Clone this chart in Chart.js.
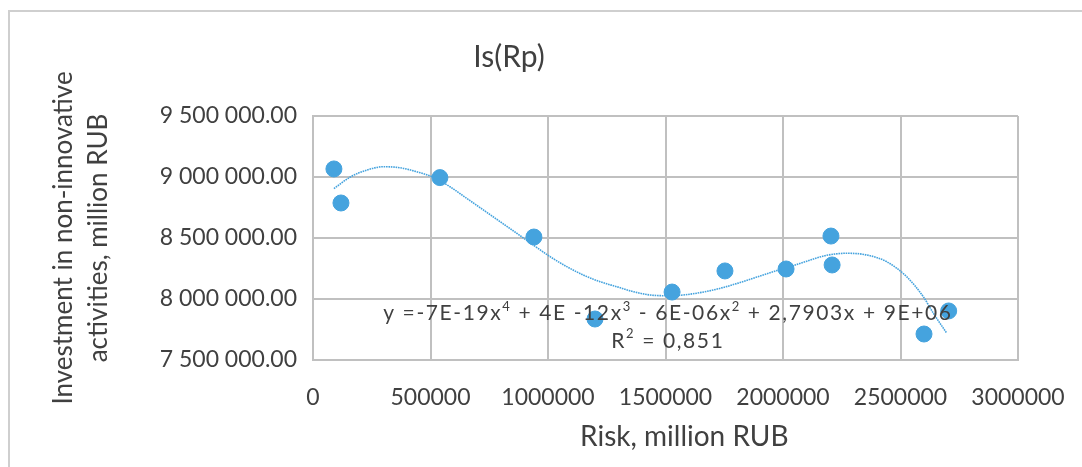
<!DOCTYPE html>
<html>
<head>
<meta charset="utf-8">
<script src="https://cdn.jsdelivr.net/npm/chart.js@4"></script>
<style>
  html, body { margin: 0; padding: 0; background: #fff; }
  #wrap { width: 1082px; height: 467px; position: relative; }
</style>
</head>
<body>
<div id="wrap"><canvas id="chart" width="1082" height="467"></canvas></div>
<script>
// ── Datos ──
const riskX = [89000, 119000, 540000, 940000, 1200000, 1528000, 1753000, 2013000, 2204000, 2209000, 2600000, 2705000];
const investY = [9066000, 8787000, 8995000, 8508000, 7836000, 8057000, 8230000, 8246000, 8516000, 8279000, 7713000, 7902000];

// línea de tendencia (polinómica, grado 4) muestreada del gráfico
const trendX = [89000, 157000, 229000, 299000, 370000, 441000, 512000, 583000, 654000, 725000, 796000, 867000, 937000, 1009000, 1080000, 1150000, 1221000, 1292000, 1363000, 1434000, 1505000, 1576000, 1675000, 1747000, 1817000, 1959000, 2030000, 2101000, 2186000, 2271000, 2356000, 2441000, 2526000, 2597000, 2640000, 2697000];
const trendY = [8905000, 8998000, 9057000, 9084000, 9076000, 9043000, 8998000, 8920000, 8825000, 8730000, 8634000, 8539000, 8443000, 8347000, 8265000, 8197000, 8142000, 8101000, 8060000, 8033000, 8027000, 8033000, 8062000, 8095000, 8135000, 8224000, 8265000, 8310000, 8358000, 8375000, 8361000, 8306000, 8183000, 8019000, 7883000, 7719000];

const xTicks = [0, 500000, 1000000, 1500000, 2000000, 2500000, 3000000];
const yTicks = [7500000, 8000000, 8500000, 9000000, 9500000];

const xTitle = 'Risk, million RUB';
const eqParts = [['y =-7E-19x', 0], ['4', 1], [' + 4E -12x', 0], ['3', 1], [' - 6E-06x', 0], ['2', 1], [' + 2,7903x + 9E+06', 0]];
const r2Text = ['R', '2', ' = 0,851'];

// Estilos
const textColor = '#404040';
const gridColor = '#c0c0c0';
const dotColor = '#45a3de';
const fontFamily = 'Lato, "Open Sans", sans-serif';

const fmtY = v => {
  const s = Math.round(v).toString().replace(/\B(?=(\d{3})+(?!\d))/g, ' ');
  return s + '.00';
};

// marco exterior
const framePlugin = {
  id: 'frame',
  beforeDraw(chart) {
    const { ctx } = chart;
    ctx.save();
    ctx.fillStyle = '#fff';
    ctx.fillRect(0, 0, chart.width, chart.height);
    ctx.strokeStyle = '#cfcfcf';
    ctx.lineWidth = 2;
    ctx.strokeRect(9, 11, chart.width + 20, chart.height + 20);
    ctx.restore();
  },
};

// título eje X (Excel lo desplaza a la derecha) + ecuación de la tendencia
const eqPlugin = {
  id: 'equation',
  afterDatasetsDraw(chart) {
    const { ctx, scales: { x, y } } = chart;
    ctx.save();
    ctx.fillStyle = textColor;
    ctx.textBaseline = 'middle';
    ctx.textAlign = 'center';
    ctx.font = '28px ' + fontFamily;
    ctx.fillText(xTitle, x.getPixelForValue(1580000), 437);

    const cx = x.getPixelForValue(1510000);
    const y1 = y.getPixelForValue(7880000);
    const y2 = y.getPixelForValue(7655000);
    const big = '21px ' + fontFamily;
    const small = '13px ' + fontFamily;
    ctx.textAlign = 'left';
    ctx.letterSpacing = '1.6px';
    let w = 0;
    eqParts.forEach(([t, sup]) => { ctx.font = sup ? small : big; w += ctx.measureText(t).width; });
    let px = cx - w / 2;
    eqParts.forEach(([t, sup]) => {
      ctx.font = sup ? small : big;
      ctx.fillText(t, px, sup ? y1 - 7 : y1);
      px += ctx.measureText(t).width;
    });
    ctx.font = big;
    const a = ctx.measureText(r2Text[0]).width;
    ctx.font = small;
    const b = ctx.measureText(r2Text[1]).width;
    ctx.font = big;
    const c = ctx.measureText(r2Text[2]).width;
    px = cx - (a + b + c) / 2;
    ctx.fillText(r2Text[0], px, y2);
    ctx.font = small;
    ctx.fillText(r2Text[1], px + a, y2 - 7);
    ctx.font = big;
    ctx.fillText(r2Text[2], px + a + b, y2);
    ctx.restore();
  },
};

new Chart(document.getElementById('chart'), {
  type: 'scatter',
  data: {
    datasets: [
      {
        label: 'Is(Rp)',
        data: riskX.map((v, i) => ({ x: v, y: investY[i] })),
        backgroundColor: dotColor,
        borderColor: dotColor,
        pointRadius: 8,
        pointHoverRadius: 8,
        order: 1,
      },
      {
        label: 'trend',
        data: trendX.map((v, i) => ({ x: v, y: trendY[i] })),
        showLine: true,
        borderColor: dotColor,
        borderWidth: 1.6,
        borderDash: [1.6, 0.8],
        pointRadius: 0,
        cubicInterpolationMode: 'monotone',
        order: 2,
      },
    ],
  },
  options: {
    responsive: false,
    animation: false,
    events: [],
    layout: { padding: { left: 0, right: 64, top: 0, bottom: 0 } },
    plugins: {
      legend: { display: false },
      tooltip: { enabled: false },
      title: {
        display: true,
        text: 'Is(Rp)',
        color: textColor,
        font: { family: fontFamily, size: 30, weight: 'normal', lineHeight: 1.2 },
        padding: { top: 39, bottom: 41 },
      },
    },
    scales: {
      x: {
        type: 'linear',
        min: 0,
        max: 3000000,
        afterFit: s => { s.height = 107; s.paddingLeft = 0; s.paddingRight = 0; },
        afterBuildTicks: s => { s.ticks = xTicks.map(v => ({ value: v })); },
        ticks: { color: textColor, font: { family: fontFamily, size: 23 }, padding: 24, maxRotation: 0, callback: v => String(v) },
        grid: { color: gridColor, lineWidth: 2, drawTicks: false },
        border: { color: gridColor, width: 2 },
      },
      y: {
        type: 'linear',
        min: 7500000,
        max: 9500000,
        afterFit: s => { s.width = 313; },
        afterBuildTicks: s => { s.ticks = yTicks.map(v => ({ value: v })); },
        ticks: { color: textColor, font: { family: fontFamily, size: 23 }, padding: 16, callback: v => fmtY(v) },
        grid: { color: gridColor, lineWidth: 2, drawTicks: false },
        border: { color: gridColor, width: 2 },
        title: {
          display: true,
          text: ['Investment in non-innovative', 'activities, million RUB'],
          color: textColor,
          font: { family: fontFamily, size: 26, lineHeight: 1.35 },
          padding: { top: 46, bottom: 0 },
        },
      },
    },
  },
  plugins: [framePlugin, eqPlugin],
});
</script>
</body>
</html>
